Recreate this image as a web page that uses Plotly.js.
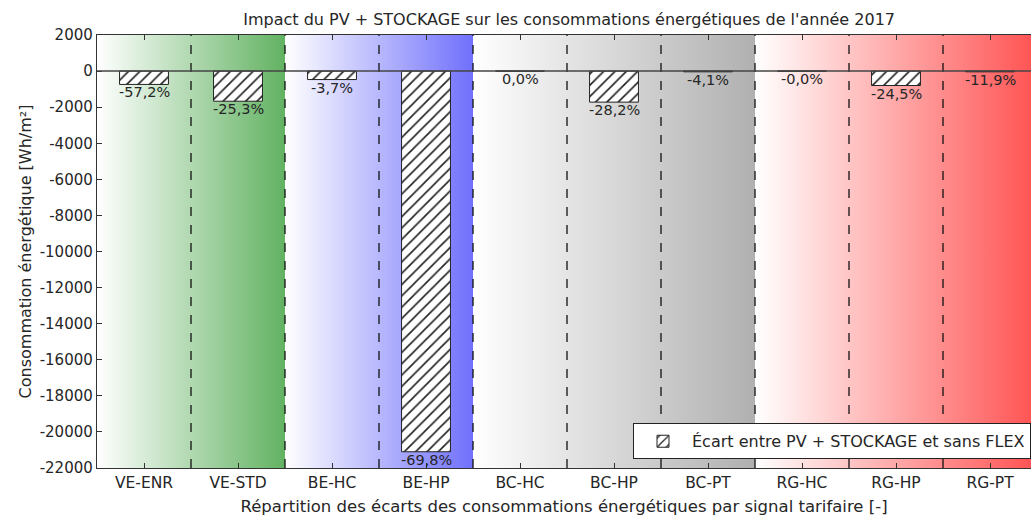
<!DOCTYPE html>
<html>
<head>
<meta charset="utf-8">
<script src="https://cdn.plot.ly/plotly-3.0.1.min.js"></script>
<style>html,body{margin:0;padding:0;background:#fff;}#chart{width:1031px;height:516px;}</style>
</head>
<body>
<div id="chart"></div>
<script>
const categories = ['VE-ENR','VE-STD','BE-HC','BE-HP','BC-HC','BC-HP','BC-PT','RG-HC','RG-HP','RG-PT'];
const ecart = [-740, -1670, -470, -21100, 0, -1720, -40, 0, -800, -40];
const pctLabels = ['-57,2%','-25,3%','-3,7%','-69,8%','0,0%','-28,2%','-4,1%','-0,0%','-24,5%','-11,9%'];
const yTickVals = [2000,0,-2000,-4000,-6000,-8000,-10000,-12000,-14000,-16000,-18000,-20000,-22000];
const yTickText = ['2000','0','-2000','-4000','-6000','-8000','-10000','-12000','-14000','-16000','-18000','-20000','-22000'];
const groupFirst = [0, 2, 4, 7];
const groupLast  = [1, 3, 6, 9];
const groupColors = ['rgb(98,178,98)','rgb(112,112,252)','rgb(176,176,176)','rgb(255,82,82)'];

const FONT = '"DejaVu Sans", "Noto Sans", sans-serif';
const TXT = '#262626';
const yMin = -22000, yMax = 2000;
const xRange = [-0.5, 9.436];

const traces = [];
for (let g = 0; g < groupFirst.length; g++) {
  const x0 = groupFirst[g] - 0.5, x1 = groupLast[g] + 0.5;
  traces.push({
    type: 'scatter', mode: 'lines', xaxis: 'x', yaxis: 'y',
    x: [x0, x1, x1, x0, x0], y: [yMax, yMax, yMin, yMin, yMax],
    fill: 'toself',
    fillgradient: {type: 'horizontal', colorscale: [[0, 'rgb(255,255,255)'], [1, groupColors[g]]]},
    line: {width: 0}, showlegend: false, hoverinfo: 'skip'
  });
}
traces.push({
  type: 'bar', xaxis: 'x2', yaxis: 'y2', x: categories.map((c, i) => i), y: ecart, width: 0.52,
  name: 'Écart entre PV + STOCKAGE et sans FLEX',
  marker: {color: 'white', line: {color: '#222', width: 1},
    pattern: {shape: '/', fgcolor: '#222', bgcolor: 'white', size: 8, solidity: 0.2}},
  showlegend: true
});

const shapes = [];
for (let i = 0; i < categories.length - 1; i++) {
  shapes.push({type: 'line', xref: 'x', yref: 'y', x0: i + 0.5, x1: i + 0.5, y0: yMin, y1: yMax,
    line: {color: '#111', width: 1.3, dash: 'dash'}, layer: 'above'});
}
shapes.push({type: 'line', xref: 'paper', yref: 'y', x0: 0, x1: 1, y0: 0, y1: 0,
  line: {color: '#444', width: 1.5}, layer: 'above'});

const annotations = categories.map((c, i) => ({
  x: i, y: ecart[i], xref: 'x', yref: 'y', text: pctLabels[i], showarrow: false,
  yanchor: 'top', xanchor: 'center', yshift: 2,
  font: {family: FONT, size: 14.5, color: TXT}
}));

const layout = {
  width: 1031, height: 516,
  margin: {l: 97, r: 0, t: 35, b: 48, pad: 0},
  paper_bgcolor: 'white', plot_bgcolor: 'white',
  font: {family: FONT, size: 14, color: TXT},
  title: {text: "Impact du PV + STOCKAGE sur les consommations énergétiques de l'année 2017",
    xref: 'container', x: 0.552, xanchor: 'center', yref: 'container', y: 0.962, yanchor: 'middle',
    font: {family: FONT, size: 16, color: TXT}},
  xaxis: {range: xRange, tickvals: categories.map((c, i) => i), ticktext: categories,
    showgrid: false, zeroline: false, showline: true, linecolor: '#333', linewidth: 1.2, mirror: 'ticks',
    ticks: 'inside', ticklen: 5, tickcolor: '#333',
    tickfont: {family: FONT, size: 15.5, color: TXT},
    title: {text: 'Répartition des écarts des consommations énergétiques par signal tarifaire [-]',
      font: {family: FONT, size: 16.5, color: TXT}, standoff: 10}},
  yaxis: {range: [yMin, yMax], tickvals: yTickVals, ticktext: yTickText,
    showgrid: false, zeroline: false, showline: true, linecolor: '#333', linewidth: 1.2, mirror: false,
    ticks: 'inside', ticklen: 5, tickcolor: '#333',
    tickfont: {family: FONT, size: 15, color: TXT},
    title: {text: 'Consommation énergétique [Wh/m²]', font: {family: FONT, size: 16, color: TXT}, standoff: 4}},
  xaxis2: {overlaying: 'x', range: xRange, visible: false, showgrid: false, zeroline: false},
  yaxis2: {overlaying: 'y', range: [yMin, yMax], visible: false, showgrid: false, zeroline: false},
  shapes: shapes,
  annotations: annotations,
  showlegend: true,
  legend: {x: 1, xanchor: 'right', y: 0.02, yanchor: 'bottom', bgcolor: 'white', bordercolor: '#222', borderwidth: 1,
    font: {family: FONT, size: 16, color: TXT}, itemwidth: 48, tracegroupgap: 0}
};

Plotly.newPlot('chart', traces, layout, {displayModeBar: false, staticPlot: true});
</script>
</body>
</html>
